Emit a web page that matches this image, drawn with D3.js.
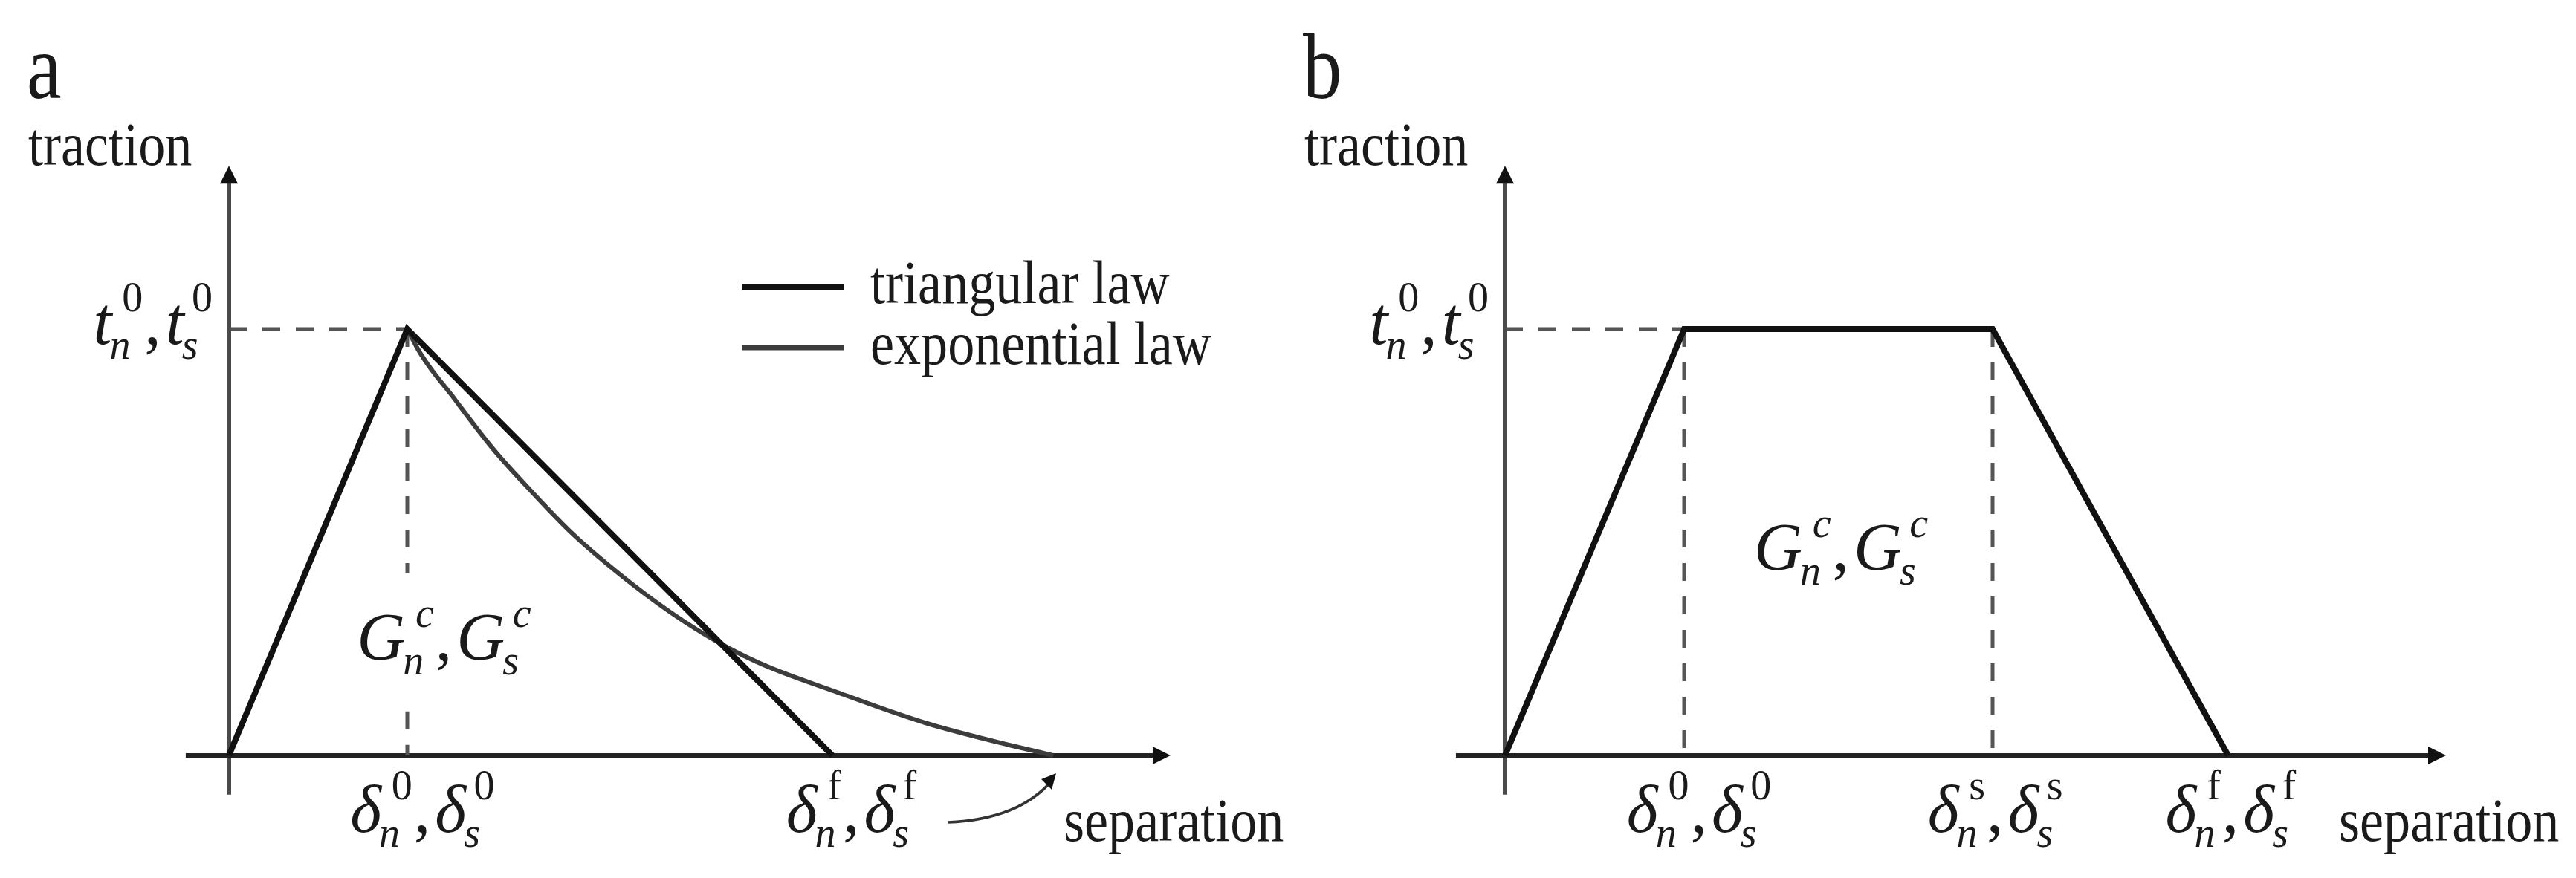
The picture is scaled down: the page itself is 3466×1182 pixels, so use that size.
<!DOCTYPE html>
<html><head><meta charset="utf-8">
<script src="https://cdn.jsdelivr.net/npm/d3@7"></script>
<style>
html,body{margin:0;padding:0;background:#fff;}
svg{display:block;}
text{font-family:"Liberation Serif","Times New Roman",serif;fill:#1a1a1a;}
</style></head>
<body><svg id="c" width="3466" height="1182"></svg>
<script>
// ---------- data (separation in units of delta^0, traction in units of t^0) ----------
const triangularLaw = [[0,0],[1,1],[3.383,0]];
const exponentialLaw = [[1.000,1.000],[1.054,0.957],[1.267,0.835],[1.479,0.720],[1.692,0.621],
  [1.904,0.529],[2.188,0.426],[2.754,0.263],[2.946,0.222],[3.425,0.146],[3.900,0.077],[4.379,0.024],[4.621,0.000]];
const trapezoidalLaw = [[0,0],[1,1],[2.722,1],[4.037,0]];
const panelLetters = ["a","b"];
const legendLabels = ["triangular law","exponential law"];
const axisTitles = ["traction","separation"];
const xExtentA = [-0.242, 5.279], xExtentB = [-0.274, 5.253], yExtent = [-0.092, 1.383];
const xTicksA = [{v:1, at:1.085, lab:[{b:"δ",sub:"n",sup:"0"},",",{b:"δ",sub:"s",sup:"0"}]},
                 {v:3.383, at:3.49, lab:[{b:"δ",sub:"n",sup:"f"},",",{b:"δ",sub:"s",sup:"f"}]}];
const xTicksB = [{v:1, at:1.083, lab:[{b:"δ",sub:"n",sup:"0"},",",{b:"δ",sub:"s",sup:"0"}]},
                 {v:2.722, at:2.737, lab:[{b:"δ",sub:"n",sup:"s"},",",{b:"δ",sub:"s",sup:"s"}]},
                 {v:4.037, at:4.052, lab:[{b:"δ",sub:"n",sup:"f"},",",{b:"δ",sub:"s",sup:"f"}]}];
const tLabel = [{b:"t",sub:"n",sup:"0"},",",{b:"t",sub:"s",sup:"0"}];
const gLabel = [{b:"G",sub:"n",sup:"c",supI:true},",",{b:"G",sub:"s",sup:"c",supI:true}];
const gPosA = [1.206, 0.225], gPosB = [1.876, 0.436];

// ---------- drawing ----------
const svg = d3.select("#c");
svg.append("rect").attr("width",3466).attr("height",1182).attr("fill","#fff");
const y = d3.scaleLinear().domain([0,1]).range([1017,443]);
const xa = d3.scaleLinear().domain([0,1]).range([308,548]);
const xb = d3.scaleLinear().domain([0,1]).range([2025,2266]);

const F = 90, FS = 56;
function math(parent, items, x, yy, anchor){
  const g = parent.append("g");
  let cx = 0;
  items.forEach(it=>{
    if(typeof it === "string"){
      const t = g.append("text").attr("x",cx+2).attr("y",0).attr("font-size",F).text(it);
      cx += t.node().getComputedTextLength() + 8; return;
    }
    const b = g.append("text").attr("x",cx).attr("y",0).attr("font-size",F).attr("font-style","italic").text(it.b);
    cx += b.node().getComputedTextLength();
    let sw = 0, pw = 0;
    if(it.sub){ const s = g.append("text").attr("x",cx-3).attr("y",20).attr("font-size",FS).attr("font-style","italic").attr("fill","#333").text(it.sub);
      sw = s.node().getComputedTextLength()-3; }
    if(it.sup){ const p = g.append("text").attr("x",cx+sw*0.55).attr("y",-44).attr("font-size",FS).attr("font-style",it.supI?"italic":"normal").attr("fill","#333").text(it.sup);
      pw = sw*0.55 + p.node().getComputedTextLength(); }
    cx += Math.max(sw,pw);
  });
  const bb = g.node().getBBox();
  const dx = anchor==="end" ? x-(bb.x+bb.width) : anchor==="middle" ? x-(bb.x+bb.width/2) : x-bb.x;
  g.attr("transform",`translate(${dx},${yy})`);
  return g;
}
function serif(parent, txt, x, yy){
  return parent.append("text").attr("transform",`translate(${x},${yy}) scale(0.88,1)`).attr("font-size",82).text(txt);
}
function arrowHead(parent, x, yy, dir){
  // dir: "up" or "right"; size 24
  const s=24, h=12;
  const pts = dir==="up" ? [[x,yy],[x-h,yy+s],[x+h,yy+s]] : [[x,yy],[x-s,yy-h],[x-s,yy+h]];
  parent.append("path").attr("d", d3.line()(pts)+"Z").attr("fill","#111");
}

function panel(x, xExt, letterIdx){
  const g = svg.append("g");
  const x0 = x(0), y0 = y(0);
  // panel letter
  g.append("text").attr("transform",`translate(${x0-272},132) scale(0.84,1)`)
    .attr("font-family","'Liberation Sans',Arial,sans-serif").attr("font-size",125).attr("fill","#111").text(panelLetters[letterIdx]);
  serif(g, axisTitles[0], x0-270, 222);
  // dashed t0 line
  g.append("line").attr("x1",x0).attr("x2",x(1)).attr("y1",y(1)).attr("y2",y(1))
    .attr("stroke","#555").attr("stroke-width",5).attr("stroke-dasharray","24,21");
  // axes
  g.append("line").attr("x1",x0).attr("x2",x0).attr("y1",y(yExtent[0])).attr("y2",y(yExtent[1])+10)
    .attr("stroke","#4a4a4a").attr("stroke-width",6);
  arrowHead(g, x0, y(yExtent[1]), "up");
  g.append("line").attr("x1",x(xExt[0])).attr("x2",x(xExt[1])-10).attr("y1",y0).attr("y2",y0)
    .attr("stroke","#222").attr("stroke-width",6);
  arrowHead(g, x(xExt[1]), y0, "right");
  serif(g, axisTitles[1], x(xExt[1])-144, 1132);
  math(g, tLabel, x0-22, y(1)+20, "end");
  return g;
}

// ---- panel a ----
const ga = panel(xa, xExtentA, 0);
const gLabA = math(ga, gLabel, xa(gPosA[0]), y(gPosA[1]), "middle");
const gbA = gLabA.node().getBBox();
const gTop = y(gPosA[1]) + gbA.y, gBot = y(gPosA[1]) + gbA.y + gbA.height;
ga.append("line").attr("x1",xa(1)).attr("x2",xa(1)).attr("y1",y(1)).attr("y2",gTop-22)
  .attr("stroke","#555").attr("stroke-width",5).attr("stroke-dasharray","24,21");
ga.append("line").attr("x1",xa(1)).attr("x2",xa(1)).attr("y1",gBot+38).attr("y2",y(0))
  .attr("stroke","#555").attr("stroke-width",5).attr("stroke-dasharray","24,21");
const lineA = d3.line().x(d=>xa(d[0])).y(d=>y(d[1]));
ga.append("path").attr("d", d3.line().x(d=>xa(d[0])).y(d=>y(d[1])).curve(d3.curveMonotoneX)(exponentialLaw))
  .attr("fill","none").attr("stroke","#3c3c3c").attr("stroke-width",6);
ga.append("path").attr("d", lineA(triangularLaw)).attr("fill","none").attr("stroke","#111")
  .attr("stroke-width",8).attr("stroke-linejoin","miter");
xTicksA.forEach(t=>math(ga, t.lab, xa(t.at), 1120, "middle"));
// curved pointer to exponential end
const expEnd = exponentialLaw[exponentialLaw.length-1];
const ex = xa(expEnd[0])+4, ey = y(0)+24;
const sx = xa(xTicksA[1].at)+130, sy = 1107;
ga.append("path").attr("d",`M${sx},${sy} Q${ex-50},${sy-4} ${ex-6},${ey+10}`)
  .attr("fill","none").attr("stroke","#333").attr("stroke-width",3.5);
ga.append("path").attr("d",`M${ex},${ey} L${ex-20},${ey+8} L${ex-6},${ey+22} Z`).attr("fill","#111");
// legend
const lg = ga.append("g");
[0,1].forEach(i=>{
  const ly = i===0 ? 386 : 468, ty = i===0 ? 408 : 490;
  lg.append("line").attr("x1",998).attr("x2",1136).attr("y1",ly).attr("y2",ly)
    .attr("stroke", i===0?"#111":"#3c3c3c").attr("stroke-width", i===0?8:7);
  serif(lg, legendLabels[i], 1171, ty);
});

// ---- panel b ----
const gb = panel(xb, xExtentB, 1);
[trapezoidalLaw[1][0], trapezoidalLaw[2][0]].forEach(v=>{
  gb.append("line").attr("x1",xb(v)).attr("x2",xb(v)).attr("y1",y(1)).attr("y2",y(0))
    .attr("stroke","#555").attr("stroke-width",5).attr("stroke-dasharray","24,21");
});
gb.append("path").attr("d", d3.line().x(d=>xb(d[0])).y(d=>y(d[1]))(trapezoidalLaw))
  .attr("fill","none").attr("stroke","#111").attr("stroke-width",8).attr("stroke-linejoin","miter");
math(gb, gLabel, xb(gPosB[0]), y(gPosB[1]), "middle");
xTicksB.forEach(t=>math(gb, t.lab, xb(t.at), 1120, "middle"));
</script></body></html>
